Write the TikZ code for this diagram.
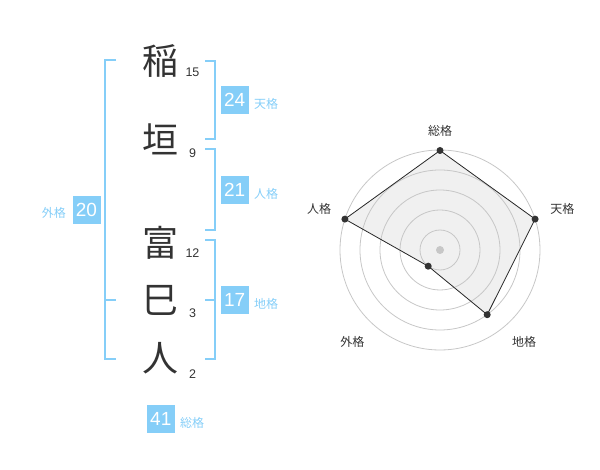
\documentclass[tikz,border=0pt]{standalone}
\usepackage{fontspec}
\setmainfont{Liberation Sans}
\newfontfamily\jp{Noto Sans CJK JP}
\definecolor{lblue}{HTML}{85CEF8}
\definecolor{dgray}{HTML}{333333}
\begin{document}
\begin{tikzpicture}[x=1pt,y=-1pt,
  bigchar/.style={font=\jp\fontsize{36}{36}\selectfont, text=dgray, inner sep=0pt},
  strokes/.style={font=\fontsize{12.5}{12.5}\selectfont, text=dgray, inner sep=0pt},
  numbox/.style={fill=lblue, text=white, minimum size=28pt, inner sep=0pt, font=\fontsize{19}{19}\selectfont},
  boxlbl/.style={font=\jp\fontsize{12}{12}\selectfont, text=lblue, inner sep=0pt},
  brk/.style={draw=lblue, line width=2pt},
  ring/.style={draw=black!22, line width=0.8pt},
  radlbl/.style={font=\jp\fontsize{12}{12}\selectfont, text=dgray, inner sep=0pt},
  dot/.style={circle, fill=dgray, minimum size=7pt, inner sep=0pt}]
\useasboundingbox (0,0) rectangle (600,470);
% characters
\node[bigchar] (c1) at (160,61) {稲};
\node[bigchar] (c2) at (160,139) {垣};
\node[bigchar] (c3) at (160,243) {富};
\node[bigchar] (c4) at (160.5,300) {巳};
\node[bigchar] (c5) at (160,358) {人};
\node[strokes] (s1) at (192.5,72.7) {15};
\node[strokes] (s2) at (192.5,153.3) {9};
\node[strokes] (s3) at (192.5,252.7) {12};
\node[strokes] (s4) at (192.5,313.3) {3};
\node[strokes] (s5) at (192.5,374) {2};
% brackets
\draw[brk] (205,61) -- (214.5,61) -- (214.5,139.3) -- (205,139.3);
\draw[brk] (205,149.3) -- (214.5,149.3) -- (214.5,230) -- (205,230);
\draw[brk] (205,240) -- (214.5,240) -- (214.5,359.3) -- (205,359.3);
\draw[brk] (205,300) -- (214.5,300);
\draw[brk] (116,60) -- (105.3,60) -- (105.3,359.3) -- (116,359.3);
\draw[brk] (105.3,300) -- (116,300);
% boxes
\node[numbox] (b1) at (234.7,100) {24};
\node[boxlbl, anchor=west] (l1) at (254,104) {天格};
\node[numbox] (b2) at (234.7,190) {21};
\node[boxlbl, anchor=west] (l2) at (254,194) {人格};
\node[numbox] (b3) at (234.7,300) {17};
\node[boxlbl, anchor=west] (l3) at (254,304.3) {地格};
\node[numbox] (b4) at (86.5,210) {20};
\node[boxlbl, anchor=east] (l4) at (66,213.3) {外格};
\node[numbox] (b5) at (160.8,419) {41};
\node[boxlbl, anchor=west] (l5) at (180,422.7) {総格};
% radar
\coordinate (O) at (440,250);
\coordinate (p1) at (440,150.5);
\coordinate (p2) at (535.1,219.1);
\coordinate (p3) at (487.2,314.7);
\coordinate (p4) at (428.2,266.2);
\coordinate (p5) at (344.9,219.1);
\fill[black!6] (p1) -- (p2) -- (p3) -- (p4) -- (p5) -- cycle;
\foreach \r in {20,40,60,80,100} \draw[ring] (O) circle[radius=\r];
\draw[line width=0.8pt, black!85] (p1) -- (p2) -- (p3) -- (p4) -- (p5) -- cycle;
\node[circle, fill=black!22, minimum size=8pt, inner sep=0pt] (cen) at (O) {};
\foreach \i in {1,...,5} \node[dot] (d\i) at (p\i) {};
\node[radlbl] (r1) at (440,130.7) {総格};
\node[radlbl] (r2) at (562.3,208.7) {天格};
\node[radlbl] (r3) at (524,341.7) {地格};
\node[radlbl] (r4) at (352.3,341.7) {外格};
\node[radlbl] (r5) at (319,208.7) {人格};
\end{tikzpicture}
\end{document}
